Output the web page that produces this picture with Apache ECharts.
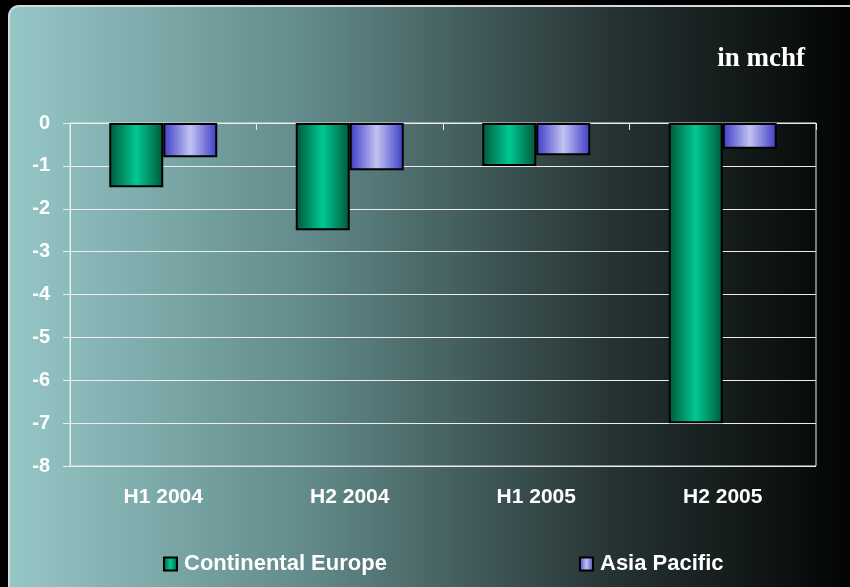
<!DOCTYPE html>
<html>
<head>
<meta charset="utf-8">
<script src="https://cdn.jsdelivr.net/npm/echarts@6/dist/echarts.min.js"></script>
<style>
  html, body { margin: 0; padding: 0; background: #000; }
  #chart { width: 850px; height: 587px; }
</style>
</head>
<body>
<div id="chart"></div>
<script>
// Half-year results by region, in mchf
const periods = ['H1 2004', 'H2 2004', 'H1 2005', 'H2 2005'];
const continentalEurope = [-1.5, -2.5, -1.0, -7.0];
const asiaPacific = [-0.8, -1.1, -0.75, -0.6];
const yTicks = { min: -8, max: 0, step: 1 };

const chart = echarts.init(document.getElementById('chart'));

function cylinder(edge, mid) {
  return new echarts.graphic.LinearGradient(0, 0, 1, 0, [
    { offset: 0, color: edge },
    { offset: 0.5, color: mid },
    { offset: 1, color: edge }
  ]);
}

const labelFont = { color: '#ffffff', fontFamily: 'Liberation Sans, Arial, sans-serif', fontWeight: 'bold' };

function legendFor(name, left) {
  return {
    left: left,
    top: 553,
    padding: 0,
    icon: 'rect',
    itemWidth: 13,
    itemHeight: 13,
    textStyle: Object.assign({ fontSize: 22, padding: [0, 0, 0, 2] }, labelFont),
    data: [name]
  };
}

chart.setOption({
  backgroundColor: '#000',
  graphic: [
    {
      type: 'rect',
      z: -10,
      shape: { x: 9, y: 6, width: 860, height: 600, r: 10 },
      style: {
        fill: new echarts.graphic.LinearGradient(0, 0, 1, 0, [
          { offset: 0, color: '#96c7c7' },
          { offset: 0.35, color: '#628a8a' },
          { offset: 0.7, color: '#263333' },
          { offset: 1, color: '#000000' }
        ]),
        stroke: '#d8d8d8',
        lineWidth: 2
      }
    },
    {
      type: 'text',
      right: 45,
      top: 46,
      style: {
        text: 'in mchf',
        fill: '#ffffff',
        font: 'bold 27px "Liberation Serif", "Times New Roman", serif'
      }
    }
  ],
  grid: {
    left: 70, right: 34, top: 123, bottom: 121,
    show: true, borderColor: '#ececec', borderWidth: 1
  },
  legend: [
    legendFor('Continental Europe', 163),
    legendFor('Asia Pacific', 579)
  ],
  xAxis: [
    {
      type: 'category',
      data: periods,
      position: 'top',
      axisLine: { show: true, onZero: false, lineStyle: { color: '#ececec', width: 1 } },
      axisTick: { show: true, inside: true, length: 7, lineStyle: { color: '#ececec' } },
      axisLabel: { show: false }
    },
    {
      type: 'category',
      data: periods,
      position: 'bottom',
      axisLine: { show: false },
      axisTick: { show: false },
      axisLabel: Object.assign({ fontSize: 21, margin: 21 }, labelFont)
    }
  ],
  yAxis: {
    type: 'value',
    min: yTicks.min,
    max: yTicks.max,
    interval: yTicks.step,
    axisLine: { show: true, lineStyle: { color: '#ececec', width: 1 } },
    axisTick: { show: true, length: 7, lineStyle: { color: '#ececec' } },
    splitLine: { show: true, lineStyle: { color: '#ececec', width: 1 } },
    axisLabel: Object.assign({ fontSize: 20, margin: 20 }, labelFont)
  },
  series: [
    {
      name: 'Continental Europe',
      type: 'bar',
      xAxisIndex: 0,
      data: continentalEurope,
      barWidth: 54,
      barGap: '0%',
      itemStyle: {
        color: cylinder('#00583a', '#00c892'),
        borderColor: '#000',
        borderWidth: 2
      }
    },
    {
      name: 'Asia Pacific',
      type: 'bar',
      xAxisIndex: 0,
      data: asiaPacific,
      barWidth: 54,
      barGap: '0%',
      itemStyle: {
        color: cylinder('#3c3cc8', '#c2c2f2'),
        borderColor: '#000',
        borderWidth: 2
      }
    }
  ]
});
</script>
</body>
</html>
